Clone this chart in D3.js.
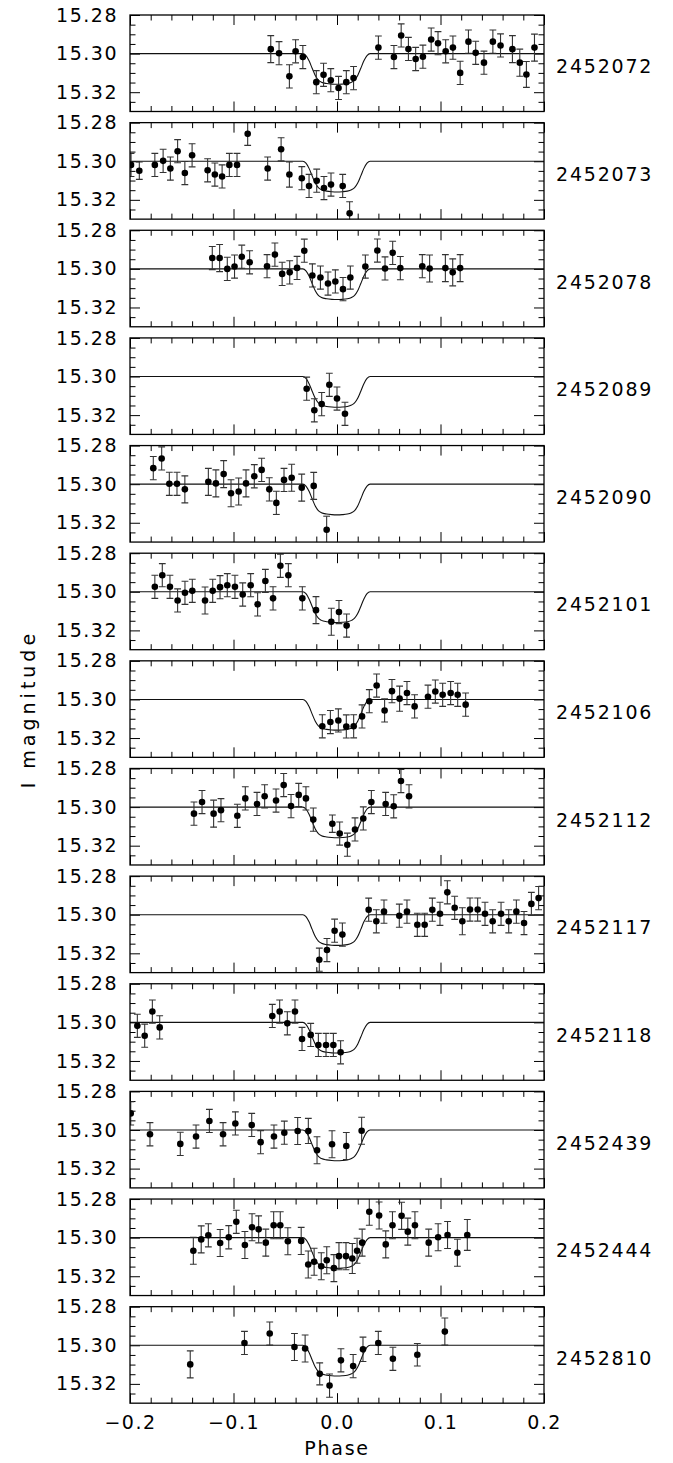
<!DOCTYPE html>
<html>
<head>
<meta charset="utf-8">
<script src="https://cdn.jsdelivr.net/npm/d3@7"></script>
<style>
  body { margin: 0; background: #fff; }
  svg { display: block; }
  text { font-family: "DejaVu Sans", sans-serif; fill: #000; }
</style>
</head>
<body>
<svg id="chart" width="673" height="1463"></svg>
<script>
// ---- axis settings ----
const phaseDomain = [-0.2, 0.2];
const magDomain = [15.28, 15.33];
const xMajorTicks = [-0.2, -0.1, 0.0, 0.1, 0.2];
const xTickLabels = ["\u22120.2", "\u22120.1", "0.0", "0.1", "0.2"];
const xMinorTicks = [-0.18, -0.16, -0.14, -0.12, -0.08, -0.06, -0.04, -0.02,
                     0.02, 0.04, 0.06, 0.08, 0.12, 0.14, 0.16, 0.18];
const yMajorTicks = [15.28, 15.30, 15.32];
const yTickLabels = ["15.28", "15.30", "15.32"];
const yMinorTicks = [15.285, 15.29, 15.295, 15.305, 15.31, 15.315, 15.325];

// ---- transit model (phase, I magnitude) ----
const modelPhase = [-0.2, -0.033, -0.030, -0.027, -0.024, -0.021, -0.018, -0.015, -0.010, -0.005,
                    0.0, 0.005, 0.010, 0.014, 0.017, 0.020, 0.023, 0.026, 0.029, 0.032, 0.2];
const modelMag = [15.3000, 15.3000, 15.3010, 15.3037, 15.3076, 15.3113, 15.3137, 15.3148, 15.3155, 15.3158,
                  15.3159, 15.3158, 15.3155, 15.3148, 15.3137, 15.3113, 15.3076, 15.3037, 15.3010, 15.3000, 15.3000];

// ---- observations per night: [phase, I mag, error] ----
const hjd = ["2452072", "2452073", "2452078", "2452089", "2452090", "2452101", "2452106",
             "2452112", "2452117", "2452118", "2452439", "2452444", "2452810"];

const obs2452072 = [
  [-0.064, 15.2977, 0.007], [-0.056, 15.2998, 0.006], [-0.046, 15.3118, 0.006], [-0.040, 15.2988, 0.006],
  [-0.033, 15.3018, 0.006], [-0.020, 15.3148, 0.006], [-0.013, 15.3110, 0.006], [-0.006, 15.3138, 0.006],
  [0.0015, 15.3178, 0.006], [0.009, 15.3148, 0.006], [0.016, 15.3127, 0.006], [0.040, 15.2969, 0.006],
  [0.055, 15.3018, 0.006], [0.062, 15.2906, 0.006], [0.069, 15.2976, 0.006], [0.076, 15.3028, 0.006],
  [0.083, 15.3016, 0.006], [0.091, 15.2927, 0.006], [0.0976, 15.2946, 0.006], [0.105, 15.2988, 0.006],
  [0.112, 15.2969, 0.006], [0.119, 15.3100, 0.006], [0.127, 15.2938, 0.006], [0.134, 15.2996, 0.006],
  [0.142, 15.3047, 0.006], [0.1506, 15.2938, 0.006], [0.158, 15.2958, 0.006], [0.1695, 15.2977, 0.007],
  [0.1766, 15.3047, 0.007], [0.183, 15.3108, 0.0067], [0.1908, 15.2969, 0.007]
];
const obs2452073 = [
  [-0.199, 15.3019, 0.006], [-0.191, 15.3049, 0.0045], [-0.176, 15.3019, 0.006], [-0.168, 15.2998, 0.006],
  [-0.161, 15.3038, 0.006], [-0.154, 15.2948, 0.006], [-0.147, 15.3061, 0.006], [-0.140, 15.2969, 0.006],
  [-0.125, 15.3047, 0.006], [-0.118, 15.3069, 0.006], [-0.111, 15.3079, 0.006], [-0.104, 15.3019, 0.006],
  [-0.0966, 15.3019, 0.006], [-0.0863, 15.2858, 0.006], [-0.067, 15.3038, 0.006], [-0.054, 15.2938, 0.006],
  [-0.046, 15.3069, 0.0065], [-0.034, 15.3088, 0.006], [-0.027, 15.3128, 0.006], [-0.0196, 15.3101, 0.006],
  [-0.0126, 15.3139, 0.006], [-0.0058, 15.3121, 0.006], [0.0055, 15.3128, 0.006], [0.0122, 15.3270, 0.006]
];
const obs2452078 = [
  [-0.1205, 15.2944, 0.006], [-0.1134, 15.2944, 0.007], [-0.106, 15.3000, 0.006], [-0.099, 15.2988, 0.006],
  [-0.092, 15.2937, 0.006], [-0.0844, 15.2966, 0.006], [-0.0676, 15.2986, 0.006], [-0.060, 15.2926, 0.006],
  [-0.053, 15.3026, 0.006], [-0.0457, 15.3018, 0.006], [-0.0386, 15.2995, 0.006], [-0.0316, 15.2906, 0.006],
  [-0.0238, 15.3034, 0.006], [-0.016, 15.3045, 0.006], [-0.0087, 15.3076, 0.006], [-0.0016, 15.3065, 0.006],
  [0.0058, 15.3105, 0.006], [0.0129, 15.3045, 0.006], [0.0274, 15.2988, 0.006], [0.039, 15.2905, 0.006],
  [0.0464, 15.2998, 0.006], [0.0538, 15.2917, 0.006], [0.0612, 15.2996, 0.006], [0.0824, 15.2986, 0.006],
  [0.0895, 15.2998, 0.007], [0.1047, 15.2996, 0.007], [0.1118, 15.3018, 0.007], [0.119, 15.2996, 0.007]
];
const obs2452089 = [
  [-0.0293, 15.3063, 0.006], [-0.0219, 15.3175, 0.006], [-0.0148, 15.3143, 0.006],
  [-0.0074, 15.3043, 0.006], [0.0, 15.3114, 0.006], [0.0077, 15.3193, 0.006]
];
const obs2452090 = [
  [-0.1775, 15.2917, 0.006], [-0.1694, 15.2867, 0.006], [-0.162, 15.2998, 0.006], [-0.1546, 15.2998, 0.006],
  [-0.147, 15.3027, 0.007], [-0.1243, 15.2988, 0.007], [-0.117, 15.2996, 0.007], [-0.1095, 15.2948, 0.007],
  [-0.1024, 15.3047, 0.007], [-0.095, 15.3038, 0.007], [-0.0879, 15.2996, 0.007], [-0.0799, 15.2959, 0.006],
  [-0.0728, 15.2926, 0.006], [-0.0654, 15.3027, 0.006], [-0.0586, 15.3097, 0.006], [-0.0512, 15.2978, 0.006],
  [-0.0438, 15.2967, 0.007], [-0.0341, 15.3018, 0.007], [-0.0225, 15.3009, 0.007], [-0.010, 15.3236, 0.007]
];
const obs2452101 = [
  [-0.176, 15.2974, 0.006], [-0.1688, 15.2914, 0.006], [-0.1614, 15.2974, 0.006], [-0.154, 15.3045, 0.006],
  [-0.1469, 15.3005, 0.006], [-0.1398, 15.2995, 0.006], [-0.1275, 15.3045, 0.007], [-0.1201, 15.2995, 0.006],
  [-0.113, 15.2976, 0.006], [-0.106, 15.2966, 0.006], [-0.0986, 15.2974, 0.006], [-0.0911, 15.3014, 0.006],
  [-0.0834, 15.2966, 0.006], [-0.0767, 15.3065, 0.006], [-0.0692, 15.2944, 0.006], [-0.0618, 15.3034, 0.006],
  [-0.0547, 15.2865, 0.006], [-0.047, 15.2914, 0.006], [-0.0335, 15.3034, 0.006], [-0.0203, 15.3095, 0.007],
  [-0.0055, 15.3155, 0.007], [0.0019, 15.3105, 0.006], [0.0093, 15.3175, 0.006]
];
const obs2452106 = [
  [-0.0142, 15.3139, 0.006], [-0.0064, 15.3117, 0.006], [0.0013, 15.3109, 0.006], [0.009, 15.3140, 0.006],
  [0.0161, 15.3139, 0.006], [0.0242, 15.3088, 0.006], [0.0312, 15.3009, 0.006], [0.0383, 15.2928, 0.006],
  [0.046, 15.3057, 0.006], [0.0531, 15.2957, 0.006], [0.0605, 15.2996, 0.0065], [0.0676, 15.2967, 0.006],
  [0.075, 15.3036, 0.006], [0.0879, 15.2986, 0.006], [0.095, 15.2959, 0.006], [0.1021, 15.2976, 0.006],
  [0.1098, 15.2967, 0.006], [0.1166, 15.2976, 0.006], [0.1243, 15.3027, 0.006]
];
const obs2452112 = [
  [-0.1382, 15.3034, 0.006], [-0.1304, 15.2974, 0.006], [-0.1192, 15.3034, 0.007], [-0.1121, 15.3016, 0.006],
  [-0.0963, 15.3045, 0.006], [-0.0886, 15.2955, 0.006], [-0.0773, 15.2984, 0.006], [-0.0699, 15.2944, 0.006],
  [-0.0589, 15.2966, 0.006], [-0.0515, 15.2886, 0.006], [-0.0444, 15.2995, 0.006], [-0.037, 15.2937, 0.006],
  [-0.030, 15.2955, 0.006], [-0.0229, 15.3065, 0.006], [-0.0045, 15.3086, 0.0045], [0.0026, 15.3137, 0.006],
  [0.010, 15.3195, 0.006], [0.0174, 15.3116, 0.006], [0.0254, 15.3059, 0.006], [0.0332, 15.2974, 0.006],
  [0.047, 15.2984, 0.006], [0.0548, 15.2996, 0.006], [0.0618, 15.2865, 0.006], [0.0696, 15.2944, 0.006]
];
const obs2452117 = [
  [-0.0171, 15.3233, 0.006], [-0.0097, 15.3183, 0.006], [-0.0023, 15.3083, 0.006], [0.0052, 15.3103, 0.006],
  [0.0306, 15.2974, 0.006], [0.038, 15.3034, 0.006], [0.0454, 15.2984, 0.006], [0.0602, 15.3005, 0.006],
  [0.0676, 15.2984, 0.006], [0.0776, 15.3052, 0.006], [0.0847, 15.3052, 0.006], [0.0921, 15.2974, 0.006],
  [0.0995, 15.2995, 0.006], [0.1066, 15.2884, 0.006], [0.1137, 15.2964, 0.006], [0.1211, 15.3034, 0.007],
  [0.1285, 15.2973, 0.006], [0.1359, 15.2973, 0.006], [0.143, 15.2995, 0.006], [0.1504, 15.3034, 0.006],
  [0.1585, 15.2995, 0.006], [0.1659, 15.3034, 0.006], [0.1733, 15.2984, 0.006], [0.1807, 15.3043, 0.006],
  [0.1878, 15.2944, 0.006], [0.1948, 15.2914, 0.006]
];
const obs2452118 = [
  [-0.1929, 15.3018, 0.006], [-0.1858, 15.3069, 0.006], [-0.1784, 15.2944, 0.006], [-0.1713, 15.3026, 0.006],
  [-0.0625, 15.2967, 0.006], [-0.0554, 15.2944, 0.006], [-0.048, 15.3005, 0.006], [-0.0406, 15.2944, 0.006],
  [-0.0338, 15.3086, 0.006], [-0.0254, 15.3065, 0.006], [-0.018, 15.3117, 0.006], [-0.0106, 15.3117, 0.006],
  [-0.0035, 15.3117, 0.006], [0.0035, 15.3155, 0.006]
];
const obs2452439 = [
  [-0.1993, 15.2914, 0.006], [-0.1807, 15.3022, 0.006], [-0.1514, 15.3072, 0.006], [-0.1362, 15.3034, 0.006],
  [-0.1233, 15.2953, 0.006], [-0.1101, 15.3022, 0.006], [-0.0982, 15.2966, 0.006], [-0.0824, 15.2974, 0.006],
  [-0.0738, 15.3063, 0.006], [-0.0609, 15.3034, 0.006], [-0.0509, 15.3014, 0.006], [-0.038, 15.3005, 0.007],
  [-0.0277, 15.3005, 0.0065], [-0.0193, 15.3105, 0.007], [-0.0048, 15.3074, 0.007], [0.009, 15.3083, 0.007],
  [0.0238, 15.3004, 0.007]
];
const obs2452444 = [
  [-0.1388, 15.3068, 0.007], [-0.1312, 15.3009, 0.007], [-0.1243, 15.2988, 0.006], [-0.1129, 15.3028, 0.007],
  [-0.1046, 15.2998, 0.006], [-0.0973, 15.2918, 0.006], [-0.089, 15.3038, 0.007], [-0.0821, 15.2946, 0.007],
  [-0.0757, 15.2957, 0.007], [-0.0688, 15.3026, 0.007], [-0.0612, 15.2936, 0.007], [-0.0548, 15.2936, 0.007],
  [-0.0475, 15.3019, 0.007], [-0.0346, 15.3017, 0.007], [-0.0278, 15.3139, 0.007], [-0.0221, 15.3125, 0.007],
  [-0.0152, 15.3148, 0.007], [-0.0099, 15.3117, 0.007], [-0.003, 15.3158, 0.007], [0.0019, 15.3096, 0.007],
  [0.0087, 15.3096, 0.007], [0.0148, 15.3108, 0.0078], [0.0194, 15.3068, 0.0065], [0.0243, 15.3026, 0.007],
  [0.0312, 15.2866, 0.007], [0.0407, 15.2885, 0.007], [0.0471, 15.3035, 0.007], [0.0536, 15.2936, 0.007],
  [0.0624, 15.2887, 0.007], [0.0684, 15.2969, 0.007], [0.0753, 15.2936, 0.007], [0.0886, 15.3026, 0.007],
  [0.0977, 15.2998, 0.007], [0.1068, 15.2986, 0.007], [0.1163, 15.3078, 0.007], [0.1259, 15.2986, 0.008]
];
const obs2452810 = [
  [-0.1418, 15.3099, 0.007], [-0.0894, 15.2988, 0.006], [-0.065, 15.2939, 0.006], [-0.0411, 15.3009, 0.007],
  [-0.0308, 15.3017, 0.007], [-0.0167, 15.3148, 0.0057], [-0.0072, 15.3209, 0.006], [0.0038, 15.3078, 0.006],
  [0.0156, 15.3108, 0.006], [0.0251, 15.3021, 0.0063], [0.0399, 15.2988, 0.006], [0.054, 15.3070, 0.006],
  [0.0776, 15.3049, 0.0058], [0.1042, 15.2929, 0.007]
];

const nightObs = [obs2452072, obs2452073, obs2452078, obs2452089, obs2452090, obs2452101, obs2452106,
                  obs2452112, obs2452117, obs2452118, obs2452439, obs2452444, obs2452810];

// ---- layout ----
const plotLeft = 130, plotRight = 544;
const firstTop = 15, panelStep = 107.64, panelH = 96.5;
const majorLen = 10, minorLen = 5.5;

const svg = d3.select("#chart");
const x = d3.scaleLinear().domain(phaseDomain).range([plotLeft, plotRight]);
const y = d3.scaleLinear().domain(magDomain).range([0, panelH]);

const model = modelPhase.map((p, i) => [p, modelMag[i]]);
const modelLine = d3.line().x(d => x(d[0])).y(d => y(d[1])).curve(d3.curveMonotoneX);

function styleAxis(g) {
  g.select(".domain").remove();
  g.selectAll(".tick line").attr("stroke", "#000").attr("stroke-width", 1);
}

hjd.forEach((label, i) => {
  const top = firstTop + i * panelStep;
  const g = svg.append("g").attr("transform", `translate(0,${top})`);
  const clipId = "clip" + i;
  g.append("clipPath").attr("id", clipId)
    .append("rect").attr("x", plotLeft).attr("y", 0)
    .attr("width", plotRight - plotLeft).attr("height", panelH);

  // minor ticks on all four sides, pointing inward
  const minorAxes = [
    [d3.axisBottom(x), panelH, 0, xMinorTicks],
    [d3.axisTop(x), 0, 0, xMinorTicks],
    [d3.axisLeft(y), 0, plotLeft, yMinorTicks],
    [d3.axisRight(y), 0, plotRight, yMinorTicks]
  ];
  minorAxes.forEach(([ax, ty, tx, minor]) => {
    g.append("g").attr("transform", `translate(${tx},${ty})`)
      .call(ax.tickValues(minor).tickSizeInner(-minorLen).tickSizeOuter(0).tickFormat(""))
      .call(styleAxis);
  });

  // major ticks (labels on the left, and on the bottom of the last panel)
  g.append("g").attr("transform", `translate(0,${panelH})`)
    .call(d3.axisBottom(x).tickValues(xMajorTicks).tickSizeInner(-majorLen).tickSizeOuter(0)
      .tickPadding(12).tickFormat((d, k) => i === hjd.length - 1 ? xTickLabels[k] : ""))
    .call(styleAxis)
    .selectAll("text").attr("font-size", 19).attr("letter-spacing", 1.5)
    .attr("font-family", "DejaVu Sans").attr("fill", "#000");
  g.append("g").attr("transform", `translate(0,0)`)
    .call(d3.axisTop(x).tickValues(xMajorTicks).tickSizeInner(-majorLen).tickSizeOuter(0).tickFormat(""))
    .call(styleAxis);
  g.append("g").attr("transform", `translate(${plotLeft},0)`)
    .call(d3.axisLeft(y).tickValues(yMajorTicks).tickSizeInner(-majorLen).tickSizeOuter(0)
      .tickPadding(12).tickFormat((d, k) => yTickLabels[k]))
    .call(styleAxis)
    .selectAll("text").attr("font-size", 19).attr("letter-spacing", 1.5)
    .attr("font-family", "DejaVu Sans").attr("fill", "#000");
  g.append("g").attr("transform", `translate(${plotRight},0)`)
    .call(d3.axisRight(y).tickValues(yMajorTicks).tickSizeInner(-majorLen).tickSizeOuter(0).tickFormat(""))
    .call(styleAxis);

  // model curve and observations
  const inner = g.append("g").attr("clip-path", `url(#${clipId})`);
  inner.append("path").datum(model).attr("d", modelLine)
    .attr("fill", "none").attr("stroke", "#111").attr("stroke-width", 1.1);

  const pts = inner.selectAll("g.obs").data(nightObs[i]).join("g").attr("class", "obs");
  pts.append("line")
    .attr("x1", d => x(d[0])).attr("x2", d => x(d[0]))
    .attr("y1", d => y(d[1] - d[2])).attr("y2", d => y(d[1] + d[2]))
    .attr("stroke", "#333").attr("stroke-width", 1.1);
  [-1, 1].forEach(s => {
    pts.append("line")
      .attr("x1", d => x(d[0]) - 3.4).attr("x2", d => x(d[0]) + 3.4)
      .attr("y1", d => y(d[1] + s * d[2])).attr("y2", d => y(d[1] + s * d[2]))
      .attr("stroke", "#333").attr("stroke-width", 1.1);
  });
  pts.append("circle")
    .attr("cx", d => x(d[0])).attr("cy", d => y(d[1])).attr("r", 3.3).attr("fill", "#000");

  // frame
  g.append("rect").attr("x", plotLeft).attr("y", 0)
    .attr("width", plotRight - plotLeft).attr("height", panelH)
    .attr("fill", "none").attr("stroke", "#000").attr("stroke-width", 1.3);

  // night label (HJD)
  g.append("text").attr("x", 556).attr("y", panelH / 2 + 3)
    .attr("dominant-baseline", "central").attr("font-size", 19).attr("letter-spacing", 1.8)
    .text(label);
});

const lastBottom = firstTop + (hjd.length - 1) * panelStep + panelH;
svg.append("text").attr("x", (plotLeft + plotRight) / 2).attr("y", lastBottom + 52)
  .attr("text-anchor", "middle").attr("font-size", 19).attr("letter-spacing", 1.8)
  .text("Phase");
svg.append("text")
  .attr("transform", `translate(35,${(firstTop + lastBottom) / 2}) rotate(-90)`)
  .attr("text-anchor", "middle").attr("font-size", 19).attr("letter-spacing", 4)
  .text("I magnitude");
</script>
</body>
</html>
